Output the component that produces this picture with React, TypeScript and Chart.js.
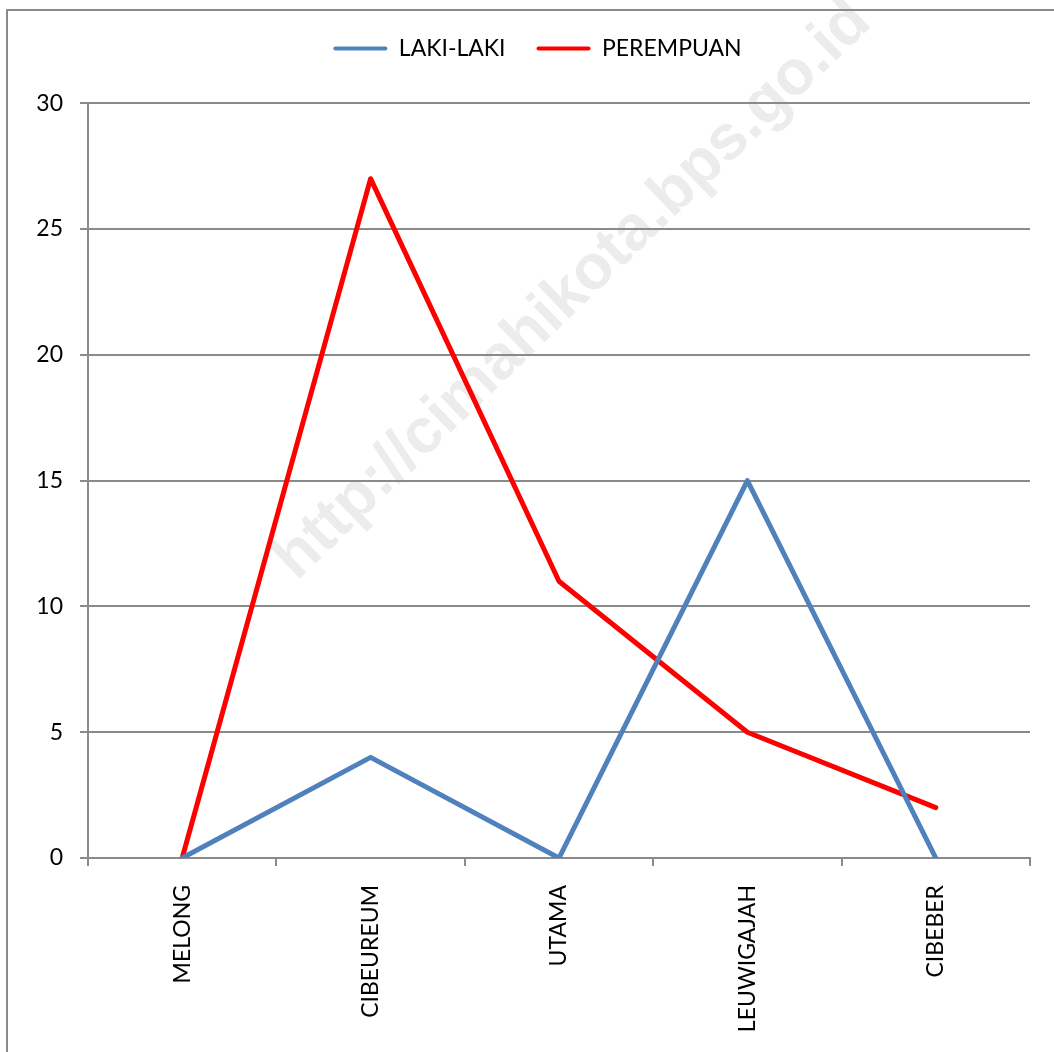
import React, { useEffect, useRef } from "react";
import { Chart, registerables } from "chart.js";

Chart.register(...registerables);

const categories = ["MELONG", "CIBEUREUM", "UTAMA", "LEUWIGAJAH", "CIBEBER"];
const lakiLaki = [0, 4, 0, 15, 0];
const perempuan = [0, 27, 11, 5, 2];
const seriesNames = ["LAKI-LAKI", "PEREMPUAN"];
const seriesColors = ["#4F81BD", "#FF0000"];
const yTicks = { min: 0, max: 30, step: 5 };
const watermarkText = "http://cimahikota.bps.go.id";

const W = 1054;
const H = 1052;
const FONT = "Lato, 'Open Sans', sans-serif";
const GRID = "#8a8a8a";
const PAD_LEFT = 45;

const framePlugin = {
  id: "frameAndWatermark",
  afterLayout(chart: any) {
    const y = chart.scales.y;
    if (y) {
      y.left = 0;
      y.width = y.right;
    }
  },
  beforeDraw(chart: any) {
    const ctx = chart.ctx;
    ctx.save();
    ctx.fillStyle = "#ffffff";
    ctx.fillRect(0, 0, chart.width, chart.height);
    // watermark
    ctx.translate(585, 303);
    ctx.rotate((-44 * Math.PI) / 180);
    ctx.font = "bold 63px 'Liberation Sans', Arial, sans-serif";
    ctx.fillStyle = "#ececec";
    ctx.textAlign = "center";
    ctx.textBaseline = "alphabetic";
    ctx.fillText(watermarkText, 0, 0);
    ctx.restore();
    // frame
    ctx.save();
    ctx.strokeStyle = GRID;
    ctx.lineWidth = 2;
    ctx.beginPath();
    ctx.moveTo(7, chart.height);
    ctx.lineTo(7, 10);
    ctx.lineTo(chart.width, 10);
    ctx.stroke();
    ctx.restore();
  },
};

export default function App() {
  const ref = useRef<HTMLCanvasElement | null>(null);
  useEffect(() => {
    if (!ref.current) return;
    const chart = new Chart(ref.current, {
      type: "line",
      data: {
        labels: categories,
        datasets: [
          {
            label: seriesNames[0],
            data: lakiLaki,
            borderColor: seriesColors[0],
            backgroundColor: seriesColors[0],
            borderWidth: 5,
            pointRadius: 0,
            borderJoinStyle: "round",
            borderCapStyle: "round",
            tension: 0,
          },
          {
            label: seriesNames[1],
            data: perempuan,
            borderColor: seriesColors[1],
            backgroundColor: seriesColors[1],
            borderWidth: 5,
            pointRadius: 0,
            borderJoinStyle: "round",
            borderCapStyle: "round",
            tension: 0,
          },
        ],
      },
      options: {
        animation: false,
        responsive: false,
        devicePixelRatio: 1,
        layout: { padding: { top: 6, right: 24, left: PAD_LEFT, bottom: 0 } },
        plugins: {
          legend: {
            position: "top",
            labels: {
              font: { family: FONT, size: 23 },
              color: "#000000",
              boxWidth: 54,
              boxHeight: 4,
              padding: 31,
              useBorderRadius: true,
              borderRadius: 2,
              generateLabels: (c: any) =>
                c.data.datasets.map((d: any, i: number) => ({
                  text: d.label,
                  fillStyle: d.borderColor,
                  strokeStyle: d.borderColor,
                  lineWidth: 0,
                  hidden: false,
                  datasetIndex: i,
                  borderRadius: 2,
                })),
            },
          },
          subtitle: {
            display: true,
            text: " ",
            weight: 500,
            font: { size: 1 },
            padding: 16,
          } as any,
          tooltip: { enabled: false },
        },
        scales: {
          x: {
            type: "category",
            offset: true,
            grid: {
              offset: true,
              drawOnChartArea: false,
              drawTicks: true,
              tickLength: 8,
              color: GRID,
              lineWidth: 2,
            },
            border: { display: true, color: GRID, width: 2 },
            ticks: {
              minRotation: 90,
              maxRotation: 90,
              padding: 19,
              font: { family: FONT, size: 23 },
              color: "#000000",
            },
            afterFit: (s: any) => {
              s.height = H - 858;
            },
          },
          y: {
            min: yTicks.min,
            max: yTicks.max,
            grid: {
              color: GRID,
              lineWidth: 2,
              tickLength: 8,
              drawTicks: true,
            },
            border: { display: true, color: GRID, width: 2 },
            ticks: {
              stepSize: yTicks.step,
              padding: 17,
              font: { family: FONT, size: 23 },
              color: "#000000",
            },
            afterFit: (s: any) => {
              s.width = 88 - PAD_LEFT;
            },
          },
        },
      },
      plugins: [framePlugin],
    });
    return () => chart.destroy();
  }, []);
  return (
    <div style={{ position: "absolute", left: 0, top: 0, width: W, height: H }}>
      <canvas ref={ref} width={W} height={H} style={{ display: "block" }} />
    </div>
  );
}
